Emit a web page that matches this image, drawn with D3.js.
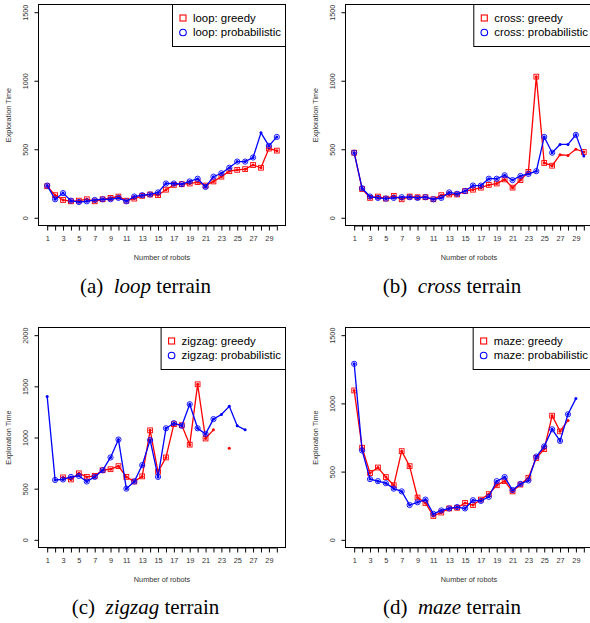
<!DOCTYPE html>
<html>
<head>
<meta charset="utf-8">
<script src="https://cdn.jsdelivr.net/npm/d3@7"></script>
<style>
  html, body { margin: 0; padding: 0; background: #fff; }
  svg { display: block; }
</style>
</head>
<body>
<svg id="chart" width="590" height="623"></svg>
<script>
// ---------------- DATA ----------------
const robots = d3.range(1, 31);              // 1..30
const xTickLabels = d3.range(1, 30, 2);      // 1,3,...,29
const yTicksStd = [0, 500, 1000, 1500];
const yTicksZig = [0, 500, 1000, 1500, 2000];

const loopGreedy = [230,165,130,120,125,135,120,135,145,155,125,140,160,170,165,205,240,245,250,260,235,265,300,340,350,355,385,365,505,490];
const loopProb   = [235,135,180,125,115,120,130,135,135,145,120,155,165,170,185,250,250,245,265,285,225,300,325,365,410,410,440,620,525,590];

const crossGreedy = [475,210,145,155,140,160,135,155,150,150,135,165,170,170,195,205,220,240,250,280,220,275,335,1030,400,380,460,455,500,480];
const crossProb   = [475,215,155,145,140,145,150,150,145,150,135,145,185,175,195,235,235,285,285,310,275,305,320,340,590,475,535,535,605,450];

const zigzagGreedy = [null,null,610,590,650,615,625,680,690,720,615,570,620,1070,665,805,1130,1120,930,1520,990,1075,null,895,null,null,null,null,null,null];
const zigzagProb   = [1400,585,590,615,625,570,615,680,805,980,500,570,730,975,615,1090,1140,1115,1325,1090,1035,1180,1225,1305,1115,1075,null,null,null,null];

const mazeGreedy = [1095,675,490,530,460,400,650,540,310,270,175,200,230,235,270,255,295,335,400,430,355,405,455,600,665,910,795,875,null,null];
const mazeProb   = [1290,655,445,430,415,375,355,255,275,295,190,215,230,240,230,290,285,315,430,460,365,410,435,610,685,810,725,920,1035,null];

// robots counts drawn with only a small dot (no open marker)
const loopGreedyPlain = [];
const loopProbPlain = [28];
const crossGreedyPlain = [27, 28, 29];
const crossProbPlain = [27, 28, 30];
const zigzagGreedyPlain = [22, 24];
const zigzagProbPlain = [1, 23, 24, 25, 26];
const mazeGreedyPlain = [28];
const mazeProbPlain = [29];

const terrains = ["loop", "cross", "zigzag", "maze"];
const captionLetters = ["(a)", "(b)", "(c)", "(d)"];

// ---------------- LAYOUT ----------------
const svg = d3.select("#chart");
const RED = "#ff0000", BLUE = "#0000ff";
const TXT = "#333";

const panels = [
  {name: terrains[0], letter: captionLetters[0], greedy: loopGreedy, prob: loopProb, gPlain: loopGreedyPlain, pPlain: loopProbPlain, yMax: 1500, yTicks: yTicksStd, left: 38, top: 4, bottom: 226, capX: 145.5, capY: 293},
  {name: terrains[1], letter: captionLetters[1], greedy: crossGreedy, prob: crossProb, gPlain: crossGreedyPlain, pPlain: crossProbPlain, yMax: 1500, yTicks: yTicksStd, left: 345, top: 4, bottom: 226, capX: 452, capY: 293},
  {name: terrains[2], letter: captionLetters[2], greedy: zigzagGreedy, prob: zigzagProb, gPlain: zigzagGreedyPlain, pPlain: zigzagProbPlain, yMax: 2000, yTicks: yTicksZig, left: 38, top: 327, bottom: 548, capX: 145.5, capY: 614},
  {name: terrains[3], letter: captionLetters[3], greedy: mazeGreedy, prob: mazeProb, gPlain: mazeGreedyPlain, pPlain: mazeProbPlain, yMax: 1500, yTicks: yTicksStd, left: 345, top: 327, bottom: 548, capX: 452, capY: 614}
];

const boxW = 248;
const fontSans = "'Liberation Sans', Arial, Helvetica, sans-serif";
const fontSerif = "'Liberation Serif', 'Times New Roman', serif";

panels.forEach(p => {
  const right = p.left + boxW;
  const xPad = (30 - 1) * 0.04;
  const x = d3.scaleLinear().domain([1 - xPad, 30 + xPad]).range([p.left, right]);
  const yPad = p.yMax * 0.04;
  const y = d3.scaleLinear().domain([-yPad, p.yMax + yPad]).range([p.bottom, p.top]);

  const g = svg.append("g");

  // frame
  g.append("rect")
    .attr("x", p.left + 0.5).attr("y", p.top + 0.5)
    .attr("width", boxW - 1).attr("height", p.bottom - p.top - 1)
    .attr("fill", "none").attr("stroke", "#000").attr("stroke-width", 1);

  // x axis
  const xAxis = d3.axisBottom(x).tickValues(robots).tickSize(5)
    .tickFormat(d => xTickLabels.includes(d) ? d : "");
  const xg = g.append("g").attr("transform", `translate(0,${p.bottom - 0.5})`).call(xAxis);
  xg.select(".domain").attr("d", `M${x(1)},0.5H${x(30)}`).attr("stroke", "#000");
  xg.selectAll(".tick line").attr("stroke", "#000");
  xg.selectAll(".tick text").attr("font-family", fontSans).attr("font-size", 7.3)
    .attr("fill", TXT).attr("y", 10).attr("dy", "0.71em");

  // y axis
  const yAxis = d3.axisLeft(y).tickValues(p.yTicks).tickSize(4).tickFormat(d3.format("d"));
  const yg = g.append("g").attr("transform", `translate(${p.left + 0.5},0)`).call(yAxis);
  yg.select(".domain").remove();
  yg.selectAll(".tick line").attr("stroke", "#000");
  yg.selectAll(".tick text")
    .attr("font-family", fontSans).attr("font-size", 7.3).attr("fill", TXT)
    .attr("x", null).attr("dy", null)
    .attr("text-anchor", "middle")
    .attr("transform", "translate(-11,0) rotate(-90)");

  // axis titles
  g.append("text")
    .attr("x", (p.left + right) / 2).attr("y", p.bottom + 33.5)
    .attr("text-anchor", "middle").attr("font-family", fontSans).attr("font-size", 7.3)
    .attr("fill", TXT).text("Number of robots");
  g.append("text")
    .attr("transform", `translate(${p.left - 27.5},${(p.top + p.bottom) / 2}) rotate(-90)`)
    .attr("text-anchor", "middle").attr("font-family", fontSans).attr("font-size", 7.3)
    .attr("fill", TXT).text("Exploration Time");

  // series
  const clipId = "clip" + p.name;
  svg.append("clipPath").attr("id", clipId).append("rect")
    .attr("x", p.left).attr("y", p.top).attr("width", boxW).attr("height", p.bottom - p.top);
  const plot = g.append("g").attr("clip-path", `url(#${clipId})`);

  const series = [
    {vals: p.greedy, color: RED, shape: "square", plain: p.gPlain},
    {vals: p.prob, color: BLUE, shape: "circle", plain: p.pPlain}
  ];
  series.forEach(s => {
    const pts = robots.map((r, i) => ({r, v: s.vals[i]}));
    const line = d3.line().defined(d => d.v !== null).x(d => x(d.r)).y(d => y(d.v));
    plot.append("path").datum(pts).attr("d", line)
      .attr("fill", "none").attr("stroke", s.color).attr("stroke-width", 1.3);
    const valid = pts.filter(d => d.v !== null);
    plot.selectAll(null).data(valid).enter().append("circle")
      .attr("cx", d => x(d.r)).attr("cy", d => y(d.v)).attr("r", 1.5)
      .attr("fill", s.color);
    const marked = valid.filter(d => !s.plain.includes(d.r));
    if (s.shape === "square") {
      plot.selectAll(null).data(marked).enter().append("rect")
        .attr("x", d => x(d.r) - 2.4).attr("y", d => y(d.v) - 2.4)
        .attr("width", 4.8).attr("height", 4.8)
        .attr("fill", "none").attr("stroke", s.color).attr("stroke-width", 0.9);
    } else {
      plot.selectAll(null).data(marked).enter().append("circle")
        .attr("cx", d => x(d.r)).attr("cy", d => y(d.v)).attr("r", 2.6)
        .attr("fill", "none").attr("stroke", s.color).attr("stroke-width", 0.9);
    }
  });

  // legend
  const lg = g.append("g");
  const labels = [p.name + ": greedy", p.name + ": probabilistic"];
  const texts = lg.selectAll("text").data(labels).enter().append("text")
    .attr("font-family", fontSans).attr("font-size", 11.4).attr("fill", "#000")
    .text(d => d);
  const maxW = d3.max(texts.nodes(), n => n.getComputedTextLength());
  const lw = 21 + maxW + 5;
  const lx = right - lw;
  const lh = 42;
  lg.insert("rect", "text")
    .attr("x", lx + 0.5).attr("y", p.top + 0.5).attr("width", lw - 1).attr("height", lh)
    .attr("fill", "#fff").attr("stroke", "#000").attr("stroke-width", 1);
  texts.attr("x", lx + 21).attr("y", (d, i) => p.top + 14 + i * 14.5).attr("dy", "0.35em");
  lg.append("rect").attr("x", lx + 11 - 3).attr("y", p.top + 14 - 3).attr("width", 6).attr("height", 6)
    .attr("fill", "none").attr("stroke", RED).attr("stroke-width", 1.1);
  lg.append("circle").attr("cx", lx + 11).attr("cy", p.top + 28.5).attr("r", 3.3)
    .attr("fill", "none").attr("stroke", BLUE).attr("stroke-width", 1.1);

  // caption
  const cap = svg.append("text").attr("x", p.capX).attr("y", p.capY)
    .attr("text-anchor", "middle").attr("font-family", fontSerif).attr("font-size", 21)
    .attr("fill", "#000");
  cap.append("tspan").text(p.letter + "\u2002");
  cap.append("tspan").attr("font-style", "italic").text(p.name);
  cap.append("tspan").text(" terrain");
});
</script>
</body>
</html>
